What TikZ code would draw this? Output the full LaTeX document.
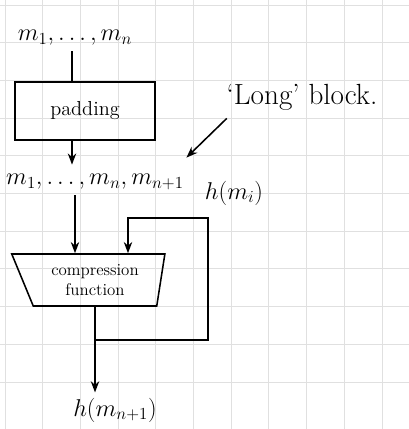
\documentclass[tikz,border=0pt]{standalone}
\usetikzlibrary{arrows.meta,shapes.geometric}
\begin{document}
\begin{tikzpicture}[x=0.025cm, y=-0.025cm, >=Stealth, line width=1.1pt,
    box/.style={draw, minimum width=3.5cm, minimum height=1.45cm},
    compbox/.style={draw, trapezium, shape border rotate=180, trapezium left angle=80,
        trapezium right angle=65, trapezium stretches=true, minimum width=3.85cm,
        minimum height=1.3cm, inner sep=1pt, align=center, font=\large},
    lbl/.style={font=\LARGE}]
    \useasboundingbox (0,0) rectangle (409,429);
    % squared paper
    \foreach \i in {0,...,10}
    {
        \draw[black!12, line width=0.6pt] (5+37.7*\i,0) -- (5+37.7*\i,429);
        \draw[black!12, line width=0.6pt] (0,5+37.7*\i) -- (409,5+37.7*\i);
    }
    \node[lbl] (in) at (75,38) {$m_1,\ldots,m_n$};
    \node[box, font=\Large] (pad) at (85,111) {padding};
    \node[lbl] (blk) at (95,182) {$m_1,\ldots,m_n,m_{n+1}$};
    \node[lbl, font=\huge] (long) at (302,97) {`Long' block.};
    \node[lbl] (hmi) at (234,193) {$h(m_i)$};
    \node[compbox] (comp) at (95,280) {compression\\function};
    \node[lbl] (out) at (115,410) {$h(m_{n+1})$};
    \coordinate (j) at (95,340);
    \coordinate (c1) at (208,340);
    \coordinate (c2) at (208,218);
    \coordinate (c3) at (128,218);
    \draw (in.south -| 72,0) -- (pad.north -| 72,0);
    \draw[->] (pad.south -| 72,0) -- ([yshift=3pt]blk.north -| 72,0);
    \draw[->] ([xshift=4pt,yshift=-2pt]long.south west) -- ([xshift=-2pt,yshift=8pt]blk.north east);
    \draw[->] (blk.south -| 75,0) -- (comp.north -| 75,0);
    \draw[->] (comp.south) -- (comp.south |- out.north);
    \draw[->] (j) -- (c1) -- (c2) -- (c3) -- (comp.north -| c3);
\end{tikzpicture}
\end{document}
